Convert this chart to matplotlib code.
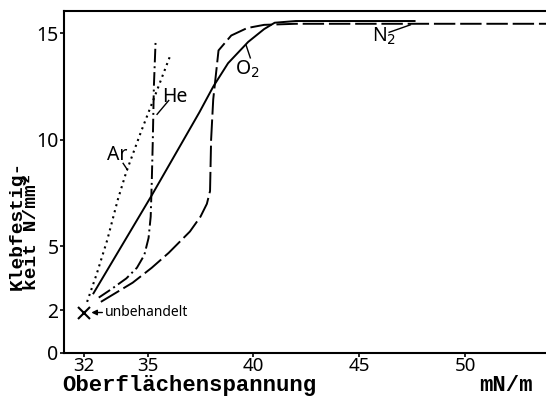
""" Klebfestigkeit in Abhaengigkeit der Oberflaechenspannung """
import matplotlib
matplotlib.use('Agg')
import matplotlib.pyplot as plt

#%%
# Daten
ar_x = [32.15, 32.6, 33.1, 33.6, 34.0, 34.7, 35.4, 36.05]
ar_y = [2.4, 3.7, 5.3, 7.2, 8.5, 10.4, 12.2, 13.9]

he_x = [32.7, 33.3, 34.0, 34.5, 34.85, 35.05, 35.15, 35.2, 35.25, 35.3, 35.38]
he_y = [2.6, 3.0, 3.5, 4.0, 4.6, 5.4, 6.4, 8.0, 10.0, 12.5, 14.6]

o2_x = [32.45, 35.2, 37.45, 38.1, 38.8, 39.75, 40.5, 41.0, 42.0, 47.6]
o2_y = [2.8, 7.4, 11.3, 12.5, 13.6, 14.6, 15.2, 15.5, 15.58, 15.58]

n2_x = [32.8, 34.3, 35.2, 36.0, 37.0, 37.5, 37.8, 37.95, 38.0, 38.1, 38.35, 38.95, 39.7, 40.5, 42.0, 53.8]
n2_y = [2.4, 3.3, 4.0, 4.7, 5.7, 6.4, 7.0, 7.6, 10.0, 11.9, 14.2, 14.9, 15.25, 15.4, 15.45, 15.45]

untreated = (32.0, 1.9)

x_ticks = [32, 35, 40, 45, 50]
y_ticks = [0, 2, 5, 10, 15]

tick_font = ['Noto Sans', 'DejaVu Sans']
label_font = ['Liberation Mono', 'DejaVu Sans Mono']

#%%
fig = plt.figure(figsize=(5.46, 3.96), dpi=100)
ax = fig.add_axes([64/546, 43/396, 1 - 64/546, 385/396 - 43/396])

lw = 1.4
ax.plot(ar_x, ar_y, color='black', lw=1.5, linestyle=(0, (1, 2)))
ax.plot(he_x, he_y, color='black', lw=lw, linestyle=(0, (7, 2, 1, 2)))
ax.plot(o2_x, o2_y, color='black', lw=lw, linestyle='-')
ax.plot(n2_x, n2_y, color='black', lw=lw, linestyle=(0, (11, 2.5)))

# unbehandelter Zustand
ax.plot(*untreated, marker='x', color='black', markersize=8, mew=1.5)
ax.annotate('unbehandelt', xy=(32.35, 1.9), xytext=(33.0, 1.9),
            va='center', ha='left', fontsize=10, family=tick_font, fontstretch='condensed',
            arrowprops=dict(arrowstyle='-|>', color='black', lw=1, mutation_scale=8,
                            shrinkA=0, shrinkB=0))

# Beschriftungen der Kurven mit Fuehrungslinien
lab = dict(fontsize=14, family=tick_font, fontstretch='condensed', va='center', ha='center')
ax.text(33.55, 9.3, 'Ar', **lab)
ax.plot([33.85, 34.05], [8.9, 8.6], color='black', lw=1)
ax.text(36.3, 12.0, 'He', **lab)
ax.plot([36.0, 35.45], [11.85, 11.2], color='black', lw=1)
ax.text(39.7, 13.3, 'O$_2$', **lab)
ax.plot([39.85, 39.65], [13.85, 14.45], color='black', lw=1)
ax.text(46.15, 14.85, 'N$_2$', **lab)
ax.plot([46.4, 47.4], [15.05, 15.4], color='black', lw=1)

ax.set_xlim(31.06, 53.8)
ax.set_ylim(0, 16.05)
ax.set_xticks(x_ticks)
ax.set_yticks(y_ticks)
ax.set_xticklabels([str(v) for v in x_ticks], family=tick_font, fontstretch='condensed', fontsize=13.5)
ax.set_yticklabels([str(v) for v in y_ticks], family=tick_font, fontstretch='condensed', fontsize=14)
ax.tick_params(direction='out', length=3, width=1.2, pad=1)
ax.tick_params(axis='x', pad=0)

ax.spines['right'].set_visible(False)
for s in ['left', 'bottom', 'top']:
    ax.spines[s].set_linewidth(1.5)

# Achsentitel
fig.text(62/546, 5/396, 'Oberflächenspannung', family=label_font, fontweight='bold',
         fontsize=16, ha='left', va='baseline')
fig.text(533/546, 5/396, 'mN/m', family=label_font, fontweight='bold',
         fontsize=16, ha='right', va='baseline')
fig.text(24/546, 106/396, 'Klebfestig-\nkeit N/mm²', family=label_font, fontweight='bold',
         fontsize=14, rotation=90, ha='center', va='bottom', multialignment='left',
         linespacing=0.8)

plt.savefig('out.png', dpi=100)
